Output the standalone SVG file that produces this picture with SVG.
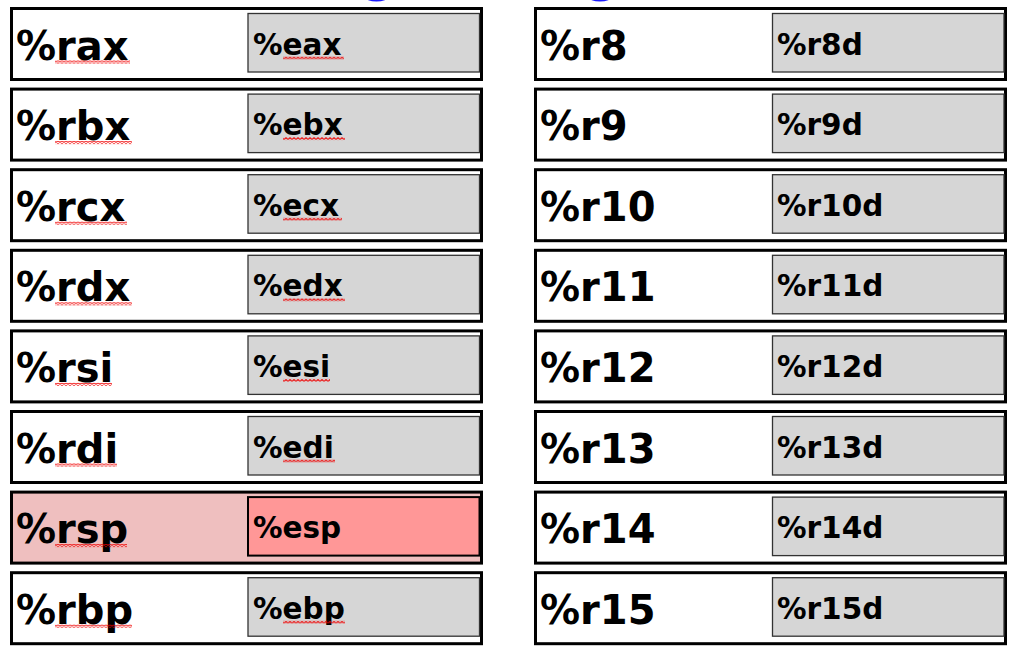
<svg xmlns="http://www.w3.org/2000/svg" width="1021" height="655" viewBox="0 0 1021 655">
<style>
.outer{fill:#ffffff;stroke:#000;stroke-width:3}
.inner{fill:#d6d6d6;stroke:#333;stroke-width:1.3}
.hot-outer{fill:#efbfbf}
.hot-inner{fill:#ff9797;stroke:#000;stroke-width:2}
.big{font-family:"DejaVu Sans","Liberation Sans",sans-serif;font-weight:bold;font-size:40px;fill:#000}
.small{font-family:"DejaVu Sans","Liberation Sans",sans-serif;font-weight:bold;font-size:29.5px;fill:#000}
.wave{fill:url(#wave)}
.blue{fill:#1a1aff}
</style>
<defs>
<pattern id="wave" x="0" y="0" width="4" height="3" patternUnits="userSpaceOnUse">
<path d="M0 2.4 L2 0.6 L4 2.4" fill="none" stroke="#f00000" stroke-width="1.1"/>
</pattern>
</defs>
<rect width="1021" height="655" fill="#fff"/>
<g id="title-fragments">
<ellipse class="blue" cx="376.5" cy="-3" rx="11.5" ry="4.5"/>
<ellipse class="blue" cx="600" cy="-3" rx="11.5" ry="4.5"/>
</g>

<g id="reg-rax" transform="translate(0,8.5)">
<rect class="outer" x="11.5" y="0" width="470" height="71"/>
<rect class="inner" x="248" y="5" width="231.5" height="58.5"/>
<text class="big" x="16" y="51">%rax</text>
<text class="small" x="253" y="46">%eax</text>
<rect class="wave" x="55" y="52" width="75" height="3"/>
<rect class="wave" x="283" y="48" width="61" height="3"/>
</g>
<g id="reg-rbx" transform="translate(0,89.1)">
<rect class="outer" x="11.5" y="0" width="470" height="71"/>
<rect class="inner" x="248" y="5" width="231.5" height="58.5"/>
<text class="big" x="16" y="51">%rbx</text>
<text class="small" x="253" y="46">%ebx</text>
<rect class="wave" x="55" y="52" width="77" height="3"/>
<rect class="wave" x="283" y="48" width="62" height="3"/>
</g>
<g id="reg-rcx" transform="translate(0,169.7)">
<rect class="outer" x="11.5" y="0" width="470" height="71"/>
<rect class="inner" x="248" y="5" width="231.5" height="58.5"/>
<text class="big" x="16" y="51">%rcx</text>
<text class="small" x="253" y="46">%ecx</text>
<rect class="wave" x="55" y="52" width="72" height="3"/>
<rect class="wave" x="283" y="48" width="59" height="3"/>
</g>
<g id="reg-rdx" transform="translate(0,250.3)">
<rect class="outer" x="11.5" y="0" width="470" height="71"/>
<rect class="inner" x="248" y="5" width="231.5" height="58.5"/>
<text class="big" x="16" y="51">%rdx</text>
<text class="small" x="253" y="46">%edx</text>
<rect class="wave" x="55" y="52" width="77" height="3"/>
<rect class="wave" x="283" y="48" width="62" height="3"/>
</g>
<g id="reg-rsi" transform="translate(0,330.9)">
<rect class="outer" x="11.5" y="0" width="470" height="71"/>
<rect class="inner" x="248" y="5" width="231.5" height="58.5"/>
<text class="big" x="16" y="51">%rsi</text>
<text class="small" x="253" y="46">%esi</text>
<rect class="wave" x="55" y="52" width="57" height="3"/>
<rect class="wave" x="283" y="48" width="47" height="3"/>
</g>
<g id="reg-rdi" transform="translate(0,411.5)">
<rect class="outer" x="11.5" y="0" width="470" height="71"/>
<rect class="inner" x="248" y="5" width="231.5" height="58.5"/>
<text class="big" x="16" y="51">%rdi</text>
<text class="small" x="253" y="46">%edi</text>
<rect class="wave" x="55" y="52" width="62" height="3"/>
<rect class="wave" x="283" y="48" width="52" height="3"/>
</g>
<g id="reg-rsp" transform="translate(0,492.1)">
<rect class="outer hot-outer" x="11.5" y="0" width="470" height="71"/>
<rect class="hot-inner" x="248" y="5" width="231.5" height="58.5"/>
<text class="big" x="16" y="51">%rsp</text>
<text class="small" x="253" y="46">%esp</text>
<rect class="wave" x="55" y="52" width="72" height="3"/>
</g>
<g id="reg-rbp" transform="translate(0,572.7)">
<rect class="outer" x="11.5" y="0" width="470" height="71"/>
<rect class="inner" x="248" y="5" width="231.5" height="58.5"/>
<text class="big" x="16" y="51">%rbp</text>
<text class="small" x="253" y="46">%ebp</text>
<rect class="wave" x="55" y="52" width="77" height="3"/>
<rect class="wave" x="283" y="48" width="62" height="3"/>
</g>

<g id="reg-r8" transform="translate(0,8.5)">
<rect class="outer" x="535.5" y="0" width="470" height="71"/>
<rect class="inner" x="772.5" y="5" width="231.5" height="58.5"/>
<text class="big" x="540" y="51">%r8</text>
<text class="small" x="777" y="46">%r8d</text>
</g>
<g id="reg-r9" transform="translate(0,89.1)">
<rect class="outer" x="535.5" y="0" width="470" height="71"/>
<rect class="inner" x="772.5" y="5" width="231.5" height="58.5"/>
<text class="big" x="540" y="51">%r9</text>
<text class="small" x="777" y="46">%r9d</text>
</g>
<g id="reg-r10" transform="translate(0,169.7)">
<rect class="outer" x="535.5" y="0" width="470" height="71"/>
<rect class="inner" x="772.5" y="5" width="231.5" height="58.5"/>
<text class="big" x="540" y="51">%r10</text>
<text class="small" x="777" y="46">%r10d</text>
</g>
<g id="reg-r11" transform="translate(0,250.3)">
<rect class="outer" x="535.5" y="0" width="470" height="71"/>
<rect class="inner" x="772.5" y="5" width="231.5" height="58.5"/>
<text class="big" x="540" y="51">%r11</text>
<text class="small" x="777" y="46">%r11d</text>
</g>
<g id="reg-r12" transform="translate(0,330.9)">
<rect class="outer" x="535.5" y="0" width="470" height="71"/>
<rect class="inner" x="772.5" y="5" width="231.5" height="58.5"/>
<text class="big" x="540" y="51">%r12</text>
<text class="small" x="777" y="46">%r12d</text>
</g>
<g id="reg-r13" transform="translate(0,411.5)">
<rect class="outer" x="535.5" y="0" width="470" height="71"/>
<rect class="inner" x="772.5" y="5" width="231.5" height="58.5"/>
<text class="big" x="540" y="51">%r13</text>
<text class="small" x="777" y="46">%r13d</text>
</g>
<g id="reg-r14" transform="translate(0,492.1)">
<rect class="outer" x="535.5" y="0" width="470" height="71"/>
<rect class="inner" x="772.5" y="5" width="231.5" height="58.5"/>
<text class="big" x="540" y="51">%r14</text>
<text class="small" x="777" y="46">%r14d</text>
</g>
<g id="reg-r15" transform="translate(0,572.7)">
<rect class="outer" x="535.5" y="0" width="470" height="71"/>
<rect class="inner" x="772.5" y="5" width="231.5" height="58.5"/>
<text class="big" x="540" y="51">%r15</text>
<text class="small" x="777" y="46">%r15d</text>
</g>
</svg>
